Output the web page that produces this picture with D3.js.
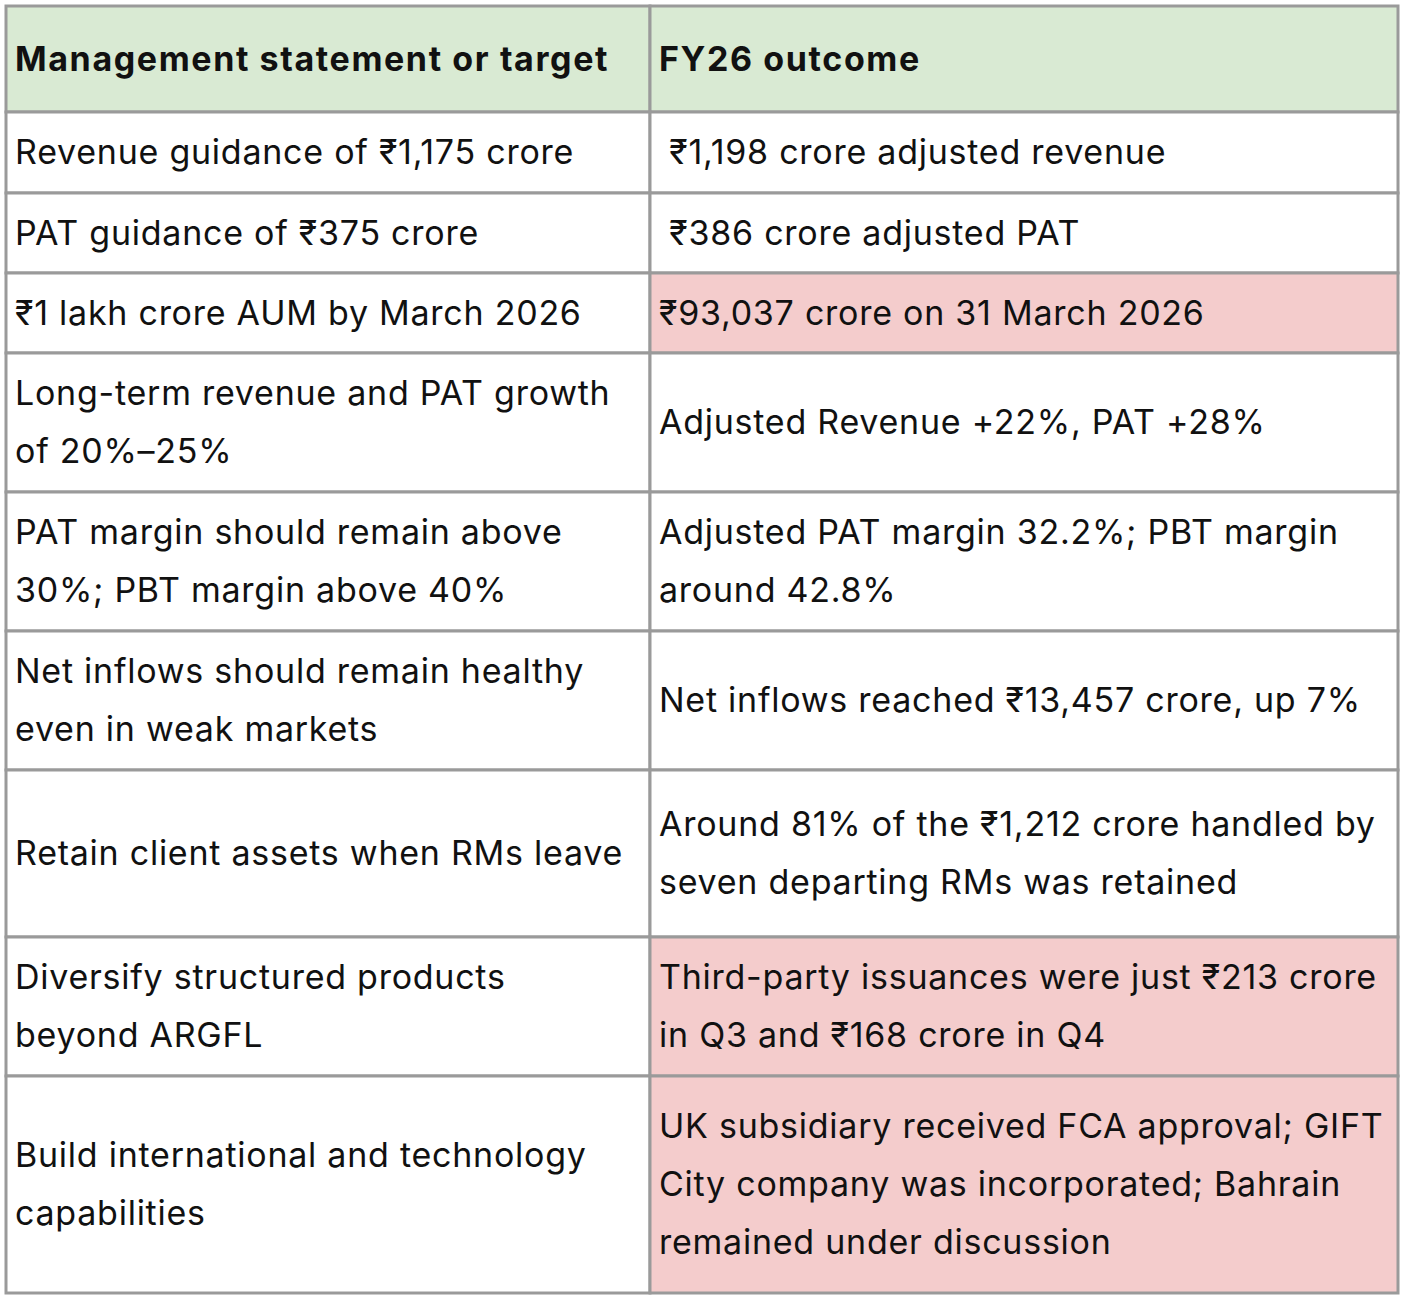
<!DOCTYPE html>
<html>
<head>
<meta charset="utf-8">
<script src="https://cdn.jsdelivr.net/npm/d3@7"></script>
<style>
  body { margin: 0; background: #fff; }
  text { font-family: Inter, "Noto Sans", sans-serif; fill: #111; }
</style>
</head>
<body>
<svg id="chart" width="1404" height="1300"></svg>
<script>
// table content
var headers = ["Management statement or target", "FY26 outcome"];
var leftCol = [
    ["Revenue guidance of ₹1,175 crore"],
    ["PAT guidance of ₹375 crore"],
    ["₹1 lakh crore AUM by March 2026"],
    ["Long-term revenue and PAT growth", "of 20%–25%"],
    ["PAT margin should remain above", "30%; PBT margin above 40%"],
    ["Net inflows should remain healthy", "even in weak markets"],
    ["Retain client assets when RMs leave"],
    ["Diversify structured products", "beyond ARGFL"],
    ["Build international and technology", "capabilities"]
];
var rightCol = [
    [" ₹1,198 crore adjusted revenue"],
    [" ₹386 crore adjusted PAT"],
    ["₹93,037 crore on 31 March 2026"],
    ["Adjusted Revenue +22%, PAT +28%"],
    ["Adjusted PAT margin 32.2%; PBT margin", "around 42.8%"],
    ["Net inflows reached ₹13,457 crore, up 7%"],
    ["Around 81% of the ₹1,212 crore handled by", "seven departing RMs was retained"],
    ["Third-party issuances were just ₹213 crore", "in Q3 and ₹168 crore in Q4"],
    ["UK subsidiary received FCA approval; GIFT", "City company was incorporated; Bahrain", "remained under discussion"]
];
var missed = [false, false, true, false, false, false, false, true, true];
var rowEdges = [6, 112, 193, 273, 353, 492, 631, 770, 937, 1076, 1293];

var svg = d3.select("#chart");
var x0 = 6, xMid = 650, x1 = 1398, lineH = 58;

var rows = [{cells: headers.map(function (h) { return [h]; }), head: true, hl: [false, false]}]
    .concat(leftCol.map(function (l, i) {
        return {cells: [l, rightCol[i]], head: false, hl: [false, missed[i]]};
    }));

var g = svg.selectAll("g.row").data(rows).enter().append("g").attr("class", "row");

g.each(function (d, i) {
    var top = rowEdges[i], bot = rowEdges[i + 1], mid = (top + bot) / 2;
    var sel = d3.select(this);
    [[x0, xMid], [xMid, x1]].forEach(function (c, j) {
        var fill = d.head ? "#d9ead3" : (d.hl[j] ? "#f4cccc" : "#fff");
        sel.append("rect").attr("x", c[0]).attr("y", top)
            .attr("width", c[1] - c[0]).attr("height", bot - top)
            .attr("fill", fill).attr("stroke", "#9a9a9a").attr("stroke-width", 3);
        var lines = d.cells[j];
        var startY = mid - (lines.length - 1) * lineH / 2;
        sel.selectAll(null).data(lines).enter().append("text")
            .attr("x", c[0] + 9)
            .attr("y", function (t, k) { return startY + k * lineH; })
            .attr("dy", "0.35em")
            .attr("xml:space", "preserve")
            .style("font-size", "34px")
            .style("font-weight", d.head ? 700 : 400)
            .style("letter-spacing", d.head ? "1.6px" : "0.75px")
            .text(function (t) { return t; });
    });
});
</script>
</body>
</html>
